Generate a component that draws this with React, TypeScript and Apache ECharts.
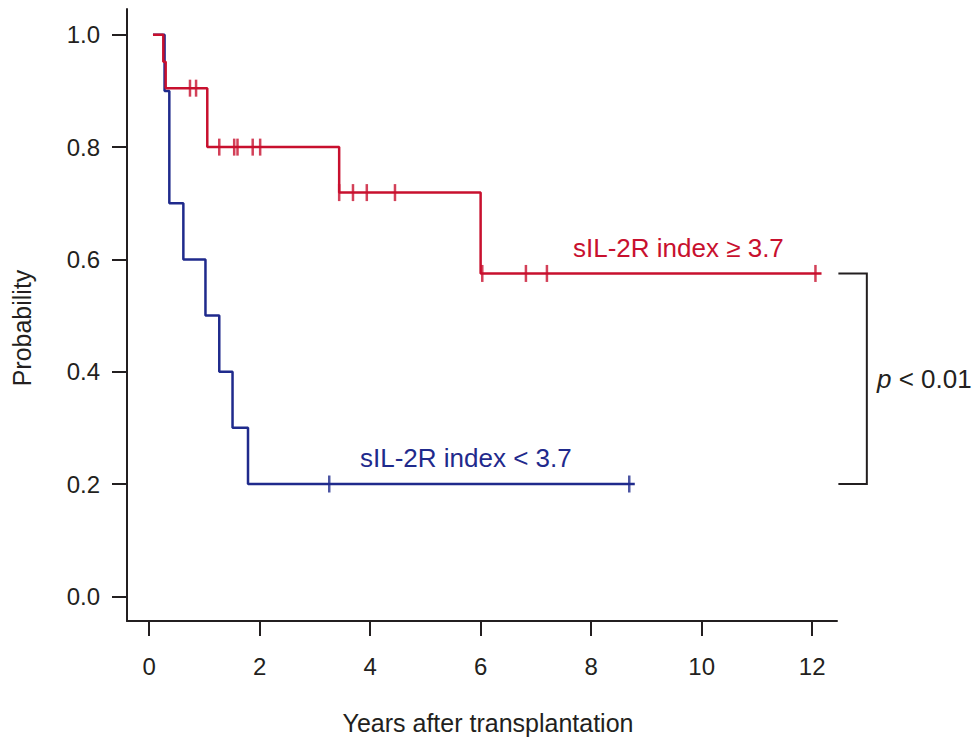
import React, { useEffect, useRef } from "react";
import * as echarts from "echarts";

const xTicks = [0, 2, 4, 6, 8, 10, 12];
const yTicks = [0, 0.2, 0.4, 0.6, 0.8, 1.0];

// sIL-2R index >= 3.7 (red)
const highTimes = [0.07, 0.257, 0.3, 1.053, 3.44, 6.0, 12.17];
const highSurv = [1, 0.952, 0.905, 0.8, 0.719, 0.575, 0.575];
const highCensorTimes = [0.74, 0.85, 1.27, 1.54, 1.6, 1.875, 2.01, 3.44, 3.69, 3.94, 4.45, 6.03, 6.82, 7.2, 12.06];
const highCensorSurv = [0.905, 0.905, 0.8, 0.8, 0.8, 0.8, 0.8, 0.719, 0.719, 0.719, 0.719, 0.575, 0.575, 0.575, 0.575];

// sIL-2R index < 3.7 (blue)
const lowTimes = [0.07, 0.28, 0.366, 0.62, 1.02, 1.27, 1.51, 1.79, 8.79];
const lowSurv = [1, 0.9, 0.7, 0.6, 0.5, 0.4, 0.3, 0.2, 0.2];
const lowCensorTimes = [3.26, 8.69];
const lowCensorSurv = [0.2, 0.2];

const highLabel = "sIL-2R index ≥ 3.7";
const lowLabel = "sIL-2R index < 3.7";
const xTitle = "Years after transplantation";
const yTitle = "Probability";
const pText = "{i|p} < 0.01";

const RED = "#C8102E";
const BLUE = "#1F2A8C";
const INK = "#231F20";
const FONT = "'Liberation Sans', Arial, Helvetica, sans-serif";

export default function App() {
  const ref = useRef<HTMLDivElement>(null);
  useEffect(() => {
    if (!ref.current) return;
    const chart = echarts.init(ref.current, undefined, { renderer: "svg" });
    const zip = (a: number[], b: number[]) => a.map((v, i) => [v, b[i]]);
    const censorSymbol = "rect";
    const texts: any[] = [
      {
        type: "text",
        left: 573,
        top: 235,
        style: { text: highLabel, fill: RED, fontSize: 26, fontFamily: FONT },
      },
      {
        type: "text",
        left: 360,
        top: 445,
        style: { text: lowLabel, fill: BLUE, fontSize: 26, fontFamily: FONT },
      },
      {
        type: "text",
        left: 877,
        top: 366,
        style: {
          text: pText,
          fill: INK,
          fontSize: 26,
          fontFamily: FONT,
          rich: { i: { fontStyle: "italic", fontSize: 26, fontFamily: FONT, fill: INK } },
        },
      },
      {
        type: "text",
        x: 488,
        y: 723,
        style: { text: xTitle, fill: INK, fontSize: 25, fontFamily: FONT, align: "center", verticalAlign: "middle" },
      },
      {
        type: "text",
        x: 22,
        y: 328,
        rotation: Math.PI / 2,
        style: { text: yTitle, fill: INK, fontSize: 25, fontFamily: FONT, align: "center", verticalAlign: "middle" },
      },
    ];
    chart.setOption({
      animation: false,
      backgroundColor: "#ffffff",
      grid: { left: 127, right: 137, top: 9, bottom: 116, containLabel: false },
      xAxis: {
        type: "value",
        min: -0.4,
        max: 12.45,
        splitLine: { show: false },
        axisLine: { show: true, onZero: false, lineStyle: { color: INK, width: 2 } },
        axisTick: { show: true, length: 15, lineStyle: { color: INK, width: 2 }, customValues: xTicks },
        axisLabel: { show: true, margin: 33, color: INK, fontSize: 24, fontFamily: FONT, customValues: xTicks },
      },
      yAxis: {
        type: "value",
        min: -0.044,
        max: 1.046,
        splitLine: { show: false },
        axisLine: { show: true, onZero: false, lineStyle: { color: INK, width: 2 } },
        axisTick: { show: true, length: 15, lineStyle: { color: INK, width: 2 }, customValues: yTicks },
        axisLabel: {
          show: true,
          margin: 27,
          color: INK,
          fontSize: 24,
          fontFamily: FONT,
          customValues: yTicks,
          formatter: (v: number) => v.toFixed(1),
        },
      },
      series: [
        {
          type: "line",
          step: "end",
          data: zip(lowTimes, lowSurv),
          symbol: "none",
          lineStyle: { color: BLUE, width: 2.5 },
          z: 2,
        },
        {
          type: "scatter",
          data: zip(lowCensorTimes, lowCensorSurv),
          symbol: censorSymbol,
          symbolSize: [2.5, 17],
          itemStyle: { color: BLUE },
          z: 3,
        },
        {
          type: "line",
          step: "end",
          data: zip(highTimes, highSurv),
          symbol: "none",
          lineStyle: { color: RED, width: 2.5 },
          z: 4,
        },
        {
          type: "scatter",
          data: zip(highCensorTimes, highCensorSurv),
          symbol: censorSymbol,
          symbolSize: [2.5, 17],
          itemStyle: { color: RED },
          z: 5,
        },
      ],
      graphic: texts,
    });
    // comparison bracket between the two final survival levels
    const yHigh = highSurv[highSurv.length - 1];
    const yLow = lowSurv[lowSurv.length - 1];
    const pts = [
      [12.475, yHigh],
      [12.99, yHigh],
      [12.99, yLow],
      [12.475, yLow],
    ].map((p) => chart.convertToPixel({ gridIndex: 0 }, p) as number[]);
    chart.setOption({
      graphic: [
        ...texts,
        {
          type: "polyline",
          shape: { points: pts },
          style: { stroke: INK, lineWidth: 2, fill: null },
        },
      ],
    });
    return () => chart.dispose();
  }, []);
  return <div ref={ref} style={{ position: "absolute", left: 0, top: 0, width: 974, height: 737 }} />;
}
